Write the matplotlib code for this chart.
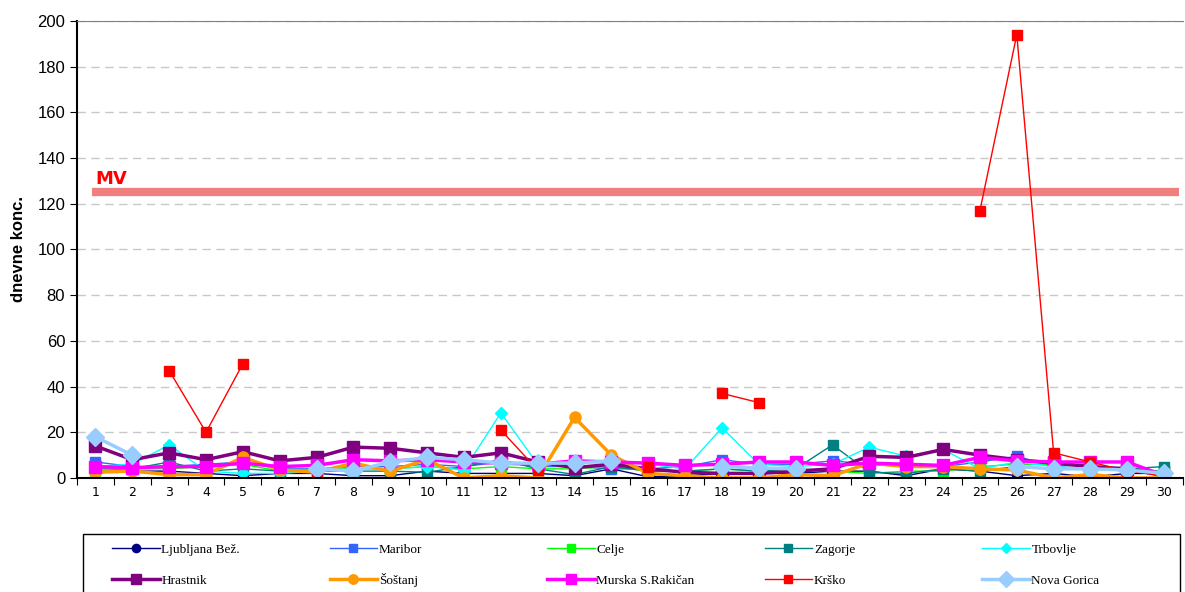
import numpy as np
import matplotlib.pyplot as plt
from matplotlib.patches import Rectangle

nan = np.nan
days = np.arange(1, 31)

# daily concentrations per station
ljubljana = [3, 3, 3, 2, 1, 2, 2, 1, 1, 3, 2, 2, 2, 1, 4, 0.5, 1, 2, 2, 2, 3, 3, 1, 4, 3, 1, 2, 0.5, 2, 2]
maribor = [7, 5, 5, 6, 7, 4, 4, 5, 5, 6, 5, 7, 5, 5, 4, 4, 5, 8, 6, 6, 7.5, 6, 5, 5, 7, 9.5, 5, 4, 4, 3]
celje = [3, 4, 4, 5, 6, 3, 4, 4, 4, 5, 4, 5, 4, 4, 5, 3, 3, 4, 3, 4, 3, 2, 3, 3, 5, 6, 6, 5, 3, 3]
zagorje = [4, 4, 7, 3, 4, 3, 3, 3, 3, 2.5, 5, 8, 4, 1.5, 5, 3, 3, 4, 3, 4, 14.5, 2.5, 2, 4, 3, 5, 4, 4, 4, 5]
trbovlje = [5, 6, 14.5, 3, 2, 2, 3, 4, 4, 5, 3.5, 28.5, 6, 6, 8, 6, 4, 22, 6, 5, 6, 13.5, 9.5, 12.5, 4, 7, 5, 4, 3, 2]
hrastnik = [14, 8, 11, 8, 11.5, 7.5, 9, 13.5, 13, 11, 9, 11, 7, 4.5, 6, 4, 2.5, 2, 2, 3, 4, 9.5, 9, 12.5, 10, 8, 6.5, 5, 4, 1]
sostanj = [2.5, 3, 1.5, 1.5, 9, 3.5, 2.5, 6.5, 3, 8, 0, 1, 0, 26.5, 10, 2, 1, 0, 0, 1.5, 1, 6.5, 5, 5, 4, 3.5, 0, 1.5, 0, 0]
murska = [5, 4.5, 5, 5, 6.5, 5, 5.5, 8, 7.5, 8, 7, 6.5, 6, 7.5, 7, 6.5, 5.5, 6, 7, 7, 5.5, 6.5, 6, 5.5, 9, 7.5, 7, 7, 7, 1]
krsko = [nan, nan, 47, 20, 50, nan, 1.5, nan, nan, nan, nan, 21, 3.5, nan, nan, 5, nan, 37, 33, nan,
         nan, nan, nan, nan, 117, 194, 11, 7, 3, 1]
nova_gorica = [18, 10, nan, nan, nan, nan, 4, 3, 7, 9, 8, 6.5, 6.5, 6.5, 7.5, nan, nan, 5, 4.4, 4,
               nan, nan, nan, nan, nan, 5, 4, 4, 3.5, 2]

MV = 125

series = [
    ("Ljubljana Bež.", ljubljana, "#000080", "o", 1.0, 7),
    ("Maribor", maribor, "#3366FF", "s", 1.0, 7),
    ("Celje", celje, "#00FF00", "s", 1.0, 7),
    ("Zagorje", zagorje, "#008080", "s", 1.0, 7),
    ("Trbovlje", trbovlje, "#00FFFF", "D", 1.0, 6),
    ("Hrastnik", hrastnik, "#800080", "s", 2.5, 8),
    ("Šoštanj", sostanj, "#FF9900", "o", 2.5, 8),
    ("Murska S.Rakičan", murska, "#FF00FF", "s", 2.5, 8),
    ("Krško", krsko, "#FF0000", "s", 1.0, 7.5),
    ("Nova Gorica", nova_gorica, "#99CCFF", "D", 2.5, 9),
]

fig = plt.figure(figsize=(11.85, 5.92), dpi=100)
ax = fig.add_axes([0.065, 0.1926, 0.933, 0.772])

handles = []
for name, vals, col, mk, lw, ms in series:
    h, = ax.plot(days, vals, color=col, marker=mk, lw=lw, ms=ms, mec=col, mfc=col, label=name)
    handles.append(h)

# limit value line
ax.hlines(MV, 0.9, 30.4, color="#F08080", lw=6, zorder=1)
ax.text(1.0, MV + 2, "MV", color="red", fontsize=13, fontweight="bold", va="bottom", ha="left")

ax.set_xlim(0.5, 30.5)
ax.set_ylim(0, 200)
ax.set_yticks(np.arange(0, 201, 20))
ax.yaxis.grid(True, color="#C8C8C8", ls=(0, (6, 4)), lw=1)
ax.set_axisbelow(True)
ax.tick_params(axis="y", length=5, direction="out")
for t in ax.get_yticklabels():
    t.set_fontfamily("Liberation Sans")
    t.set_fontsize(12)

ax.set_xticks(np.arange(0.5, 31, 1))
ax.set_xticklabels([])
ax.set_xticks(days, minor=True)
ax.set_xticklabels([str(d) for d in days], minor=True, fontsize=9)
ax.tick_params(axis="x", which="major", length=5, direction="out")
ax.tick_params(axis="x", which="minor", length=0, pad=6)

for s in ["left", "bottom"]:
    ax.spines[s].set_color("black")
    ax.spines[s].set_linewidth(1.5)
ax.spines["top"].set_color("#808080")
ax.spines["right"].set_visible(False)

ax.set_ylabel("dnevne konc.", fontsize=12, fontweight="bold", family="Liberation Sans", labelpad=8)

# legend: 5 equal columns x 2 rows inside one framed box
W, H = 1185, 592
fig.patches.append(Rectangle((83 / W, -0.05), 1097 / W, 0.05 + 1 - 534 / H, transform=fig.transFigure,
                             fill=False, edgecolor="black", lw=1))
for i, h in enumerate(handles):
    col, row = i % 5, i // 5
    fig.legend([h], [h.get_label()], loc="center left",
               bbox_to_anchor=((112 + col * 217.5) / W, 1 - (549 + row * 31) / H), frameon=False,
               borderaxespad=0, borderpad=0, prop={"family": "Liberation Serif", "size": 9.5},
               handlelength=3.6, handleheight=1.2, handletextpad=0.15, markerscale=0.85)

fig.savefig("out.png", dpi=100)
